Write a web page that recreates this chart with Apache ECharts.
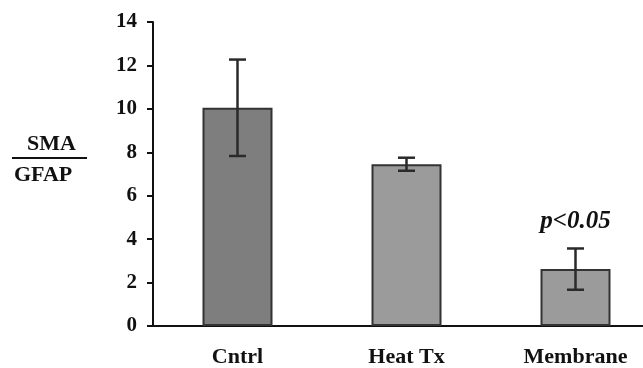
<!DOCTYPE html>
<html>
<head>
<meta charset="utf-8">
<script src="https://cdn.jsdelivr.net/npm/echarts@6/dist/echarts.min.js"></script>
<style>
  html, body { margin: 0; padding: 0; background: #fff; }
  #chart { width: 643px; height: 368px; }
</style>
</head>
<body>
<div id="chart"></div>
<script>
// values
const categories = ["Cntrl", "Heat Tx", "Membrane"];
const means = [10.05, 7.45, 2.62];
const errors = [2.22, 0.3, 0.95];
const notes = ["", "", "p<0.05"];
const yTicks = [0, 2, 4, 6, 8, 10, 12, 14];

const barColors = ["#7e7e7e", "#9b9b9b", "#9b9b9b"];
const font = "'Liberation Serif', 'Times New Roman', serif";

const chart = echarts.init(document.getElementById("chart"));

chart.setOption({
  backgroundColor: "#fff",
  animation: false,
  grid: { left: 153, top: 22, bottom: 42, right: -17, outerBoundsMode: "none" },
  xAxis: {
    type: "category",
    data: categories,
    axisLine: { lineStyle: { color: "#111", width: 2 } },
    axisTick: { show: false },
    axisLabel: {
      color: "#111",
      fontFamily: font,
      fontWeight: "bold",
      fontSize: 22,
      margin: 20,
    },
  },
  yAxis: {
    type: "value",
    min: yTicks[0],
    max: yTicks[yTicks.length - 1],
    interval: 2,
    splitLine: { show: false },
    axisLine: { show: true, lineStyle: { color: "#111", width: 2 } },
    axisTick: { show: true, length: 6, lineStyle: { color: "#111", width: 2 } },
    axisLabel: {
      color: "#111",
      fontFamily: font,
      fontWeight: "bold",
      fontSize: 21,
      margin: 16,
    },
  },
  graphic: [
    {
      type: "text",
      left: 27,
      top: 133,
      style: { text: "SMA", font: "bold 22px " + font, fill: "#111" },
    },
    {
      type: "line",
      shape: { x1: 12, y1: 158, x2: 87, y2: 158 },
      style: { stroke: "#111", lineWidth: 2 },
    },
    {
      type: "text",
      left: 14,
      top: 164,
      style: { text: "GFAP", font: "bold 22px " + font, fill: "#111" },
    },
  ],
  series: [
    {
      type: "bar",
      barWidth: 70,
      data: means.map((v, i) => ({
        value: v,
        itemStyle: { color: barColors[i] },
      })),
      itemStyle: { borderColor: "#333", borderWidth: 2 },
    },
    {
      type: "custom",
      data: means.map((v, i) => [i, v, errors[i]]),
      z: 10,
      renderItem(params, api) {
        const i = api.value(0);
        const hi = api.coord([i, api.value(1) + api.value(2)]);
        const lo = api.coord([i, api.value(1) - api.value(2)]);
        const w = 8.5;
        const style = { stroke: "#2a2a2a", lineWidth: 2.5 };
        const children = [
          { type: "line", shape: { x1: hi[0], y1: hi[1], x2: lo[0], y2: lo[1] }, style },
          { type: "line", shape: { x1: hi[0] - w, y1: hi[1], x2: hi[0] + w, y2: hi[1] }, style },
          { type: "line", shape: { x1: lo[0] - w, y1: lo[1], x2: lo[0] + w, y2: lo[1] }, style },
        ];
        const note = notes[params.dataIndex];
        if (note) {
          children.push({
            type: "text",
            style: {
              text: note,
              x: hi[0],
              y: hi[1] - 14,
              align: "center",
              verticalAlign: "bottom",
              font: "italic bold 25px " + font,
              fill: "#111",
            },
          });
        }
        return { type: "group", children };
      },
    },
  ],
});
</script>
</body>
</html>
